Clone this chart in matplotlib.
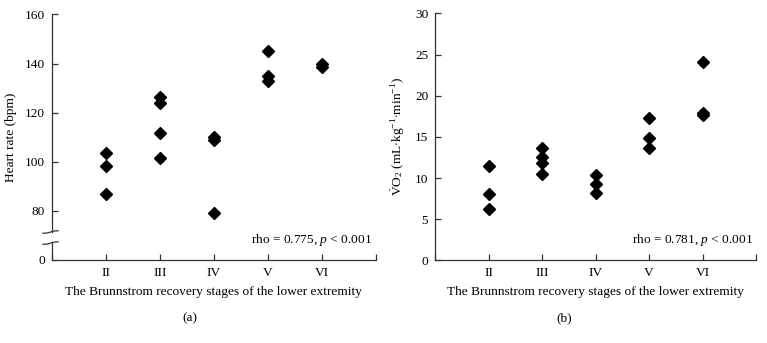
import numpy as np
import matplotlib
matplotlib.use("Agg")
import matplotlib.pyplot as plt

plt.rcParams['font.family'] = ['Liberation Serif', 'DejaVu Serif']
plt.rcParams['mathtext.fontset'] = 'custom'
plt.rcParams['mathtext.rm'] = 'Liberation Serif'
plt.rcParams['mathtext.it'] = 'Liberation Serif:italic'

# DATA
stages = ['II', 'III', 'IV', 'V', 'VI']
stage_pos = [2, 3, 4, 5, 6]

# heart rate (bpm) per stage
hr_II = [103.5, 98.2, 87.0]
hr_III = [126.2, 123.8, 111.8, 101.7]
hr_IV = [109.9, 109.0, 79.3]
hr_V = [145.2, 134.9, 132.9]
hr_VI = [139.9, 138.5]

# VO2 (mL.kg-1.min-1) per stage
vo2_II = [11.46, 8.06, 6.27]
vo2_III = [13.6, 12.5, 11.8, 10.5]
vo2_IV = [10.4, 9.27, 8.2]
vo2_V = [17.25, 14.9, 13.7]
vo2_VI = [24.1, 17.9, 17.6]

hr_ticks = [80, 100, 120, 140, 160]
vo2_ticks = [0, 5, 10, 15, 20, 25, 30]

AXC = '#333333'
FS = 9.6


def style_axes(ax):
    for s in ['top', 'right']:
        ax.spines[s].set_visible(False)
    for s in ['left', 'bottom']:
        ax.spines[s].set_color(AXC)
        ax.spines[s].set_linewidth(0.9)
    ax.tick_params(direction='in', length=4, width=0.9, color=AXC,
                   labelsize=FS, pad=5)
    ax.set_xlim(1, 7)
    ax.set_xticks([1] + stage_pos + [7])
    ax.set_xticklabels([''] + stages + [''])
    ax.set_xlabel('The Brunnstrom recovery stages of the lower extremity',
                  fontsize=FS, labelpad=5)


def scatter_groups(ax, groups):
    for x, vals in zip(stage_pos, groups):
        ax.plot([x] * len(vals), vals, 'D', color='black', ms=6.5,
                clip_on=False, zorder=3)


fig = plt.figure(figsize=(7.67, 3.43), dpi=100)

# (a) heart rate, with broken y axis (0 drawn at position 60)
ax1 = fig.add_axes([0.0678, 0.242, 0.4222, 0.716])
style_axes(ax1)
scatter_groups(ax1, [hr_II, hr_III, hr_IV, hr_V, hr_VI])
ax1.set_ylim(60, 160)
ax1.set_yticks([60] + hr_ticks)
ax1.set_yticklabels(['0'] + [str(t) for t in hr_ticks])
ax1.set_ylabel('Heart rate (bpm)', fontsize=FS, labelpad=6)
ax1.spines['left'].set_bounds(71.4, 160)
ax1.plot([1, 1], [60, 66.9], color=AXC, lw=0.9, clip_on=False)
for yb in [66.9, 71.4]:
    yy = (yb - 60) / 100
    ax1.plot([-0.028, -0.014, -0.004, 0.006, 0.019],
             [yy - 0.005, yy - 0.004, yy, yy + 0.004, yy + 0.005],
             color=AXC, lw=0.9, transform=ax1.transAxes, clip_on=False)
ax1.text(0.988, 0.081, r'rho = 0.775, $\it{p}$ < 0.001', transform=ax1.transAxes,
         ha='right', va='center', fontsize=FS)
fig.text(0.248, 0.073, '(a)', ha='center', va='center', fontsize=FS)

# (b) VO2
ax2 = fig.add_axes([0.5675, 0.241, 0.4182, 0.72])
style_axes(ax2)
scatter_groups(ax2, [vo2_II, vo2_III, vo2_IV, vo2_V, vo2_VI])
ax2.set_ylim(0, 30)
ax2.set_yticks(vo2_ticks)
ax2.set_ylabel(r'$\dot{\rm V}$O$_2$ (mL$\cdot$kg$^{-1}$$\cdot$min$^{-1}$)',
               fontsize=FS, labelpad=6)
ax2.text(0.99, 0.082, r'rho = 0.781, $\it{p}$ < 0.001', transform=ax2.transAxes,
         ha='right', va='center', fontsize=FS)
fig.text(0.735, 0.073, '(b)', ha='center', va='center', fontsize=FS)

fig.savefig('out.png', dpi=100)
